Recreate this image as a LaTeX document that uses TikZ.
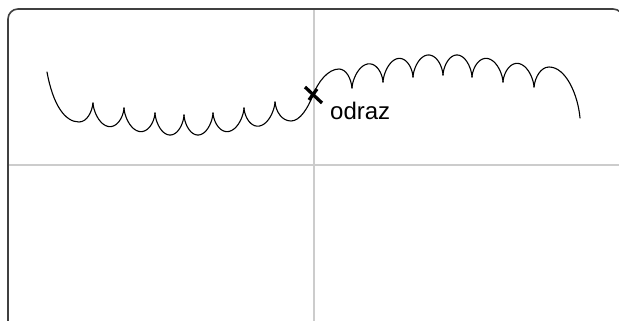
\documentclass[tikz,border=0pt]{standalone}
\usepackage{fontspec}
\setmainfont{Liberation Sans}
\usetikzlibrary{calc}
\begin{document}
\begin{tikzpicture}[x=1pt,y=-1pt,
  curve/.style={black,line width=1.1pt,line cap=round,line join=round},
  axisline/.style={draw=black!20,line width=1.4pt},
  framebox/.style={draw=black!75,line width=1.6pt,rounded corners=10pt},
  markstroke/.style={black,line width=3.3pt}]
\useasboundingbox (0,0) rectangle (619,321);
\clip (0,0) rectangle (619,321);
\newcommand\cyarch[5]{%
  \draw[curve] plot[domain=0:360,samples=41,smooth]
    ({#1+(#3-#1)*(\x/360-sin(\x)/(2*pi))},
     {#2+(#4-#2)*(\x/360-sin(\x)/(2*pi))+#5*(1-cos(\x))/2});}
% axes
\draw[axisline] (8,165) -- (619,165);
\draw[axisline] (314,9) -- (314,321);
% frame
\draw[framebox] (8,340) -- (8,9) -- (623,9) -- (623,340);
% left part
\draw[curve] (47,72) .. controls (53,105) and (65,122) .. (79,122)
  .. controls (87,122) and (92,112) .. (93,103);
\foreach \a/\b/\c/\d in {93/103/124/108,124/108/155/113,155/113/184/115,184/115/213/113,213/113/244/108,244/108/275/102}
  {\cyarch{\a}{\b}{\c}{\d}{21}}
\draw[curve] (275,102) .. controls (276,112) and (282,121) .. (291,121)
  .. controls (300,121) and (308,108) .. (313,95)
  .. controls (318,82) and (328,69) .. (339,69)
  .. controls (346,69) and (351,78) .. (352,88);
% right part
\foreach \a/\b/\c/\d in {352/88/383/82,383/82/413/77,413/77/443/75,443/75/472/77,472/77/503/82,503/82/534/87}
  {\cyarch{\a}{\b}{\c}{\d}{-21}}
\draw[curve] (534,87) .. controls (535,77) and (541,67) .. (549,67)
  .. controls (566,67) and (578,95) .. (580,118);
% reflection mark
\coordinate (m) at (313,95);
\draw[markstroke] ($(m)+(-8,-8)$) -- ($(m)+(9,8)$);
\draw[markstroke] ($(m)+(-4,5)$) -- ($(m)+(4,-6)$);
\node[anchor=base west,inner sep=0pt,font=\fontsize{24}{24}\selectfont] (lbl) at (330,119) {odraz};
\end{tikzpicture}
\end{document}
